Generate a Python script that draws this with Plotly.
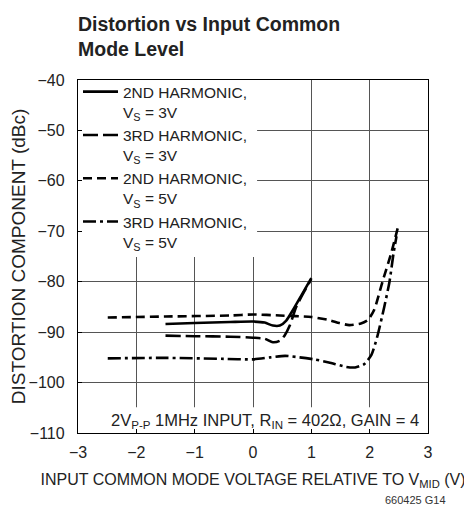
import plotly.graph_objects as go

# ---- data ----
x_2nd_3v = [-1.5, -1.0, -0.39, 0.0, 0.2, 0.34, 0.46, 0.57, 0.68, 0.83, 1.0]
y_2nd_3v = [-88.4, -88.2, -88.0, -87.9, -88.1, -88.7, -88.7, -87.7, -85.7, -82.7, -79.3]

x_3rd_3v = [-1.5, -1.0, -0.39, 0.0, 0.2, 0.34, 0.46, 0.54, 0.63, 0.74, 0.89, 1.0]
y_3rd_3v = [-90.7, -90.8, -90.9, -91.1, -91.3, -92.0, -91.7, -90.7, -88.7, -85.0, -81.7, -79.5]

x_2nd_5v = [-2.49, -1.5, -0.39, 0.0, 0.46, 1.0, 1.3, 1.48, 1.65, 1.85, 1.97, 2.08, 2.22, 2.37, 2.48]
y_2nd_5v = [-87.1, -86.9, -86.7, -86.5, -86.7, -87.0, -87.6, -88.2, -88.6, -88.3, -87.6, -85.5, -80.0, -74.3, -69.4]

x_3rd_5v = [-2.49, -1.5, -0.5, 0.0, 0.3, 0.55, 0.8, 1.05, 1.3, 1.6, 1.75, 1.9, 2.03, 2.13, 2.25, 2.34, 2.41, 2.46]
y_3rd_5v = [-95.2, -95.1, -95.3, -95.4, -95.0, -94.7, -95.0, -95.4, -96.0, -96.9, -97.0, -96.4, -94.5, -90.9, -85.0, -80.0, -74.3, -71.0]

series_names = [
    "2ND HARMONIC,<br>V<sub>S</sub> = 3V",
    "3RD HARMONIC,<br>V<sub>S</sub> = 3V",
    "2ND HARMONIC,<br>V<sub>S</sub> = 5V",
    "3RD HARMONIC,<br>V<sub>S</sub> = 5V",
]

x_tickvals = [-3, -2, -1, 0, 1, 2, 3]
x_ticktext = ["\u22123", "\u22122", "\u22121", "0", "1", "2", "3"]
y_tickvals = [-110, -100, -90, -80, -70, -60, -50, -40]
y_ticktext = ["\u2212110", "\u2212100", "\u221290", "\u221280", "\u221270", "\u221260", "\u221250", "\u221240"]

FONT = "Liberation Sans, Arial, sans-serif"
TXT = "#222"

fig = go.Figure()
dashes = ["solid", "15px,5px", "9px,5px", "13px,4px,3px,4px"]
xs = [x_2nd_3v, x_3rd_3v, x_2nd_5v, x_3rd_5v]
ys = [y_2nd_3v, y_3rd_3v, y_2nd_5v, y_3rd_5v]
for name, xx, yy, d in zip(series_names, xs, ys, dashes):
    fig.add_trace(go.Scatter(x=xx, y=yy, mode="lines", name=name,
                             line=dict(color="black", width=2.6, dash=d, shape="spline", smoothing=0.6)))

# white backgrounds behind legend and bottom note (hide gridlines)
fig.add_shape(type="rect", xref="x", yref="y", x0=-3, x1=0.07, y0=-75.1, y1=-40,
              fillcolor="white", line_width=0, layer="between")
fig.add_shape(type="rect", xref="x", yref="y", x0=-3, x1=3, y0=-110, y1=-104.9,
              fillcolor="white", line_width=0, layer="between")

fig.add_annotation(text="<b>Distortion vs Input Common<br>Mode Level</b>",
                   xref="paper", yref="paper", x=-0.005, y=1.195, xanchor="left", yanchor="top",
                   align="left", showarrow=False, font=dict(size=19.5, color=TXT, family=FONT))
fig.add_annotation(text="2V<sub>P-P</sub> 1MHz INPUT, R<sub>IN</sub> = 402\u03a9, GAIN = 4",
                   xref="paper", yref="paper", x=0.98, y=0.035, xanchor="right", yanchor="middle",
                   showarrow=False, font=dict(size=16.5, color=TXT, family=FONT))
fig.add_annotation(text="660425 G14", xref="paper", yref="paper", x=0.963, y=-0.19,
                   xanchor="center", yanchor="middle", showarrow=False,
                   font=dict(size=11, color="#333", family=FONT))

fig.update_layout(
    width=464, height=502,
    margin=dict(l=70, r=44, t=72, b=77),
    paper_bgcolor="white", plot_bgcolor="white",
    font=dict(family=FONT, color=TXT, size=16),
    showlegend=True,
    legend=dict(x=0, y=1.014, xanchor="left", yanchor="top", bgcolor="rgba(0,0,0,0)",
                valign="top", tracegroupgap=0, font=dict(size=15.5, color=TXT, family=FONT),
                itemwidth=35),
    xaxis=dict(range=[-3, 3], tickvals=x_tickvals, ticktext=x_ticktext, automargin=False,
               showgrid=True, gridcolor="#555", gridwidth=1, zeroline=False,
               showline=True, linecolor="black", linewidth=1.3, mirror=True,
               ticks="inside", ticklen=4, tickcolor="black",
               tickfont=dict(size=16), ticklabelstandoff=5,
               title=dict(text="INPUT COMMON MODE VOLTAGE RELATIVE TO V<sub>MID</sub> (V)",
                          font=dict(size=16), standoff=13)),
    yaxis=dict(range=[-110, -40], tickvals=y_tickvals, ticktext=y_ticktext, automargin=False,
               showgrid=True, gridcolor="#555", gridwidth=1, zeroline=False,
               showline=True, linecolor="black", linewidth=1.3, mirror=True,
               ticks="inside", ticklen=4, tickcolor="black",
               tickfont=dict(size=16), ticklabelstandoff=9,
               title=dict(text="DISTORTION COMPONENT (dBc)", font=dict(size=19), standoff=0)),
)

fig.write_html("out.html")
